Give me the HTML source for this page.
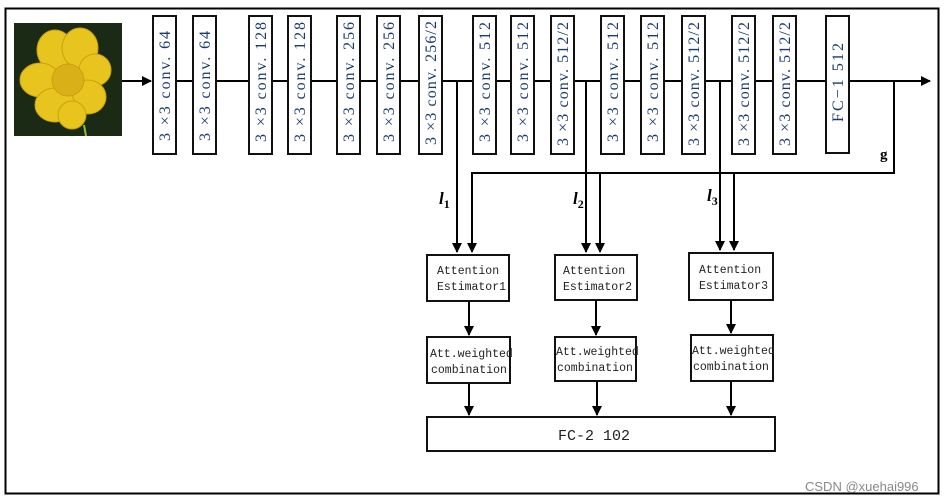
<!DOCTYPE html>
<html><head><meta charset="utf-8"><style>
html,body{margin:0;padding:0;background:#fff;}
svg{display:block;}
.r{font-family:"Liberation Serif",serif;font-size:16px;fill:#1a3a6a;}
.m{font-family:"Liberation Mono","Noto Sans CJK SC",monospace;font-size:11.5px;fill:#222;}
</style></head><body>
<svg width="946" height="502" viewBox="0 0 946 502" xmlns="http://www.w3.org/2000/svg">
<defs>
<marker id="a" viewBox="0 0 10 10" refX="9" refY="5" markerWidth="10" markerHeight="10" markerUnits="userSpaceOnUse" orient="auto"><path d="M0,0 L10,5 L0,10 z" fill="#000"/></marker>
</defs>
<rect x="5.5" y="8.5" width="933" height="485" fill="none" stroke="#000" stroke-width="2"/>
<rect x="14" y="23" width="108" height="113" fill="#1a2a14"/>
<g fill="#e8c51e" stroke="#c9a10f" stroke-width="1">
<ellipse cx="55" cy="50" rx="18" ry="20"/>
<ellipse cx="80" cy="48" rx="18" ry="20"/>
<ellipse cx="95" cy="70" rx="16" ry="16"/>
<ellipse cx="40" cy="80" rx="20" ry="17"/>
<ellipse cx="88" cy="97" rx="18" ry="17"/>
<ellipse cx="55" cy="105" rx="20" ry="17"/>
<ellipse cx="72" cy="115" rx="14" ry="14"/>
<circle cx="68" cy="80" r="16" fill="#d9b017"/>
</g>
<line x1="84" y1="125" x2="86" y2="136" stroke="#8fbf3a" stroke-width="2"/>
<g stroke="#000" stroke-width="2" fill="none">
<line x1="122" y1="81" x2="151" y2="81" marker-end="url(#a)"/>
<line x1="152" y1="81" x2="930" y2="81" marker-end="url(#a)"/>
<polyline points="457,81 457,252" marker-end="url(#a)"/>
<polyline points="586,81 586,252" marker-end="url(#a)"/>
<polyline points="720,81 720,250" marker-end="url(#a)"/>
<polyline points="894,81 894,173 472,173 472,252" marker-end="url(#a)"/>
<line x1="600" y1="173" x2="600" y2="252" marker-end="url(#a)"/>
<line x1="734" y1="173" x2="734" y2="250" marker-end="url(#a)"/>
<line x1="469" y1="301" x2="469" y2="335" marker-end="url(#a)"/>
<line x1="596" y1="300" x2="596" y2="335" marker-end="url(#a)"/>
<line x1="731" y1="300" x2="731" y2="333" marker-end="url(#a)"/>
<line x1="469" y1="383" x2="469" y2="415" marker-end="url(#a)"/>
<line x1="597" y1="381" x2="597" y2="415" marker-end="url(#a)"/>
<line x1="731" y1="381" x2="731" y2="415" marker-end="url(#a)"/>
</g>
<g fill="#fff" stroke="#111" stroke-width="2">
<rect x="153" y="16" width="23" height="138"/>
<rect x="193" y="16" width="23" height="138"/>
<rect x="249" y="16" width="23" height="138"/>
<rect x="288" y="16" width="23" height="138"/>
<rect x="337" y="16" width="23" height="138"/>
<rect x="377" y="16" width="23" height="138"/>
<rect x="419" y="16" width="23" height="138"/>
<rect x="473" y="16" width="23" height="138"/>
<rect x="511" y="16" width="23" height="138"/>
<rect x="551" y="16" width="23" height="138"/>
<rect x="601" y="16" width="23" height="138"/>
<rect x="641" y="16" width="23" height="138"/>
<rect x="682" y="16" width="23" height="138"/>
<rect x="732" y="16" width="23" height="138"/>
<rect x="773" y="16" width="23" height="138"/>
<rect x="826" y="16" width="23" height="137"/>
<rect x="427" y="255" width="82" height="46"/>
<rect x="555" y="255" width="82" height="45"/>
<rect x="689" y="253" width="84" height="47"/>
<rect x="427" y="337" width="83" height="46"/>
<rect x="555" y="337" width="81" height="44"/>
<rect x="691" y="335" width="82" height="46"/>
<rect x="427" y="417" width="348" height="34"/>
</g>
<g class="r" xml:space="preserve">
<text transform="translate(170,141) rotate(-90)" textLength="110" lengthAdjust="spacing">3 ×3  conv. 64</text>
<text transform="translate(210,141) rotate(-90)" textLength="110" lengthAdjust="spacing">3 ×3  conv. 64</text>
<text transform="translate(266,142) rotate(-90)" textLength="120" lengthAdjust="spacing">3 ×3  conv. 128</text>
<text transform="translate(305,142) rotate(-90)" textLength="120" lengthAdjust="spacing">3 ×3  conv. 128</text>
<text transform="translate(354,142) rotate(-90)" textLength="120" lengthAdjust="spacing">3 ×3  conv. 256</text>
<text transform="translate(394,142) rotate(-90)" textLength="120" lengthAdjust="spacing">3 ×3  conv. 256</text>
<text transform="translate(436,145) rotate(-90)" textLength="124" lengthAdjust="spacing">3 ×3  conv. 256/2</text>
<text transform="translate(490,142) rotate(-90)" textLength="120" lengthAdjust="spacing">3 ×3  conv. 512</text>
<text transform="translate(528,142) rotate(-90)" textLength="120" lengthAdjust="spacing">3 ×3  conv. 512</text>
<text transform="translate(568,146) rotate(-90)" textLength="124" lengthAdjust="spacing">3 ×3  conv. 512/2</text>
<text transform="translate(618,142) rotate(-90)" textLength="120" lengthAdjust="spacing">3 ×3  conv. 512</text>
<text transform="translate(658,142) rotate(-90)" textLength="120" lengthAdjust="spacing">3 ×3  conv. 512</text>
<text transform="translate(699,146) rotate(-90)" textLength="124" lengthAdjust="spacing">3 ×3  conv. 512/2</text>
<text transform="translate(749,146) rotate(-90)" textLength="124" lengthAdjust="spacing">3 ×3  conv. 512/2</text>
<text transform="translate(790,146) rotate(-90)" textLength="124" lengthAdjust="spacing">3 ×3  conv. 512/2</text>
<text transform="translate(843,122) rotate(-90)" textLength="79" lengthAdjust="spacing">FC−1  512</text>
</g>
<g class="m">
<text x="437" y="274">Attention</text><text x="437" y="290">Estimator1</text>
<text x="563" y="274">Attention</text><text x="563" y="290">Estimator2</text>
<text x="699" y="273">Attention</text><text x="699" y="289">Estimator3</text>
<text x="430" y="357">Att.weighted</text><text x="431" y="373">combination</text>
<text x="556" y="355">Att.weighted</text><text x="557" y="371">combination</text>
<text x="692" y="354">Att.weighted</text><text x="693" y="370">combination</text>
<text x="558" y="440" style="font-size:15px">FC-2 102</text>
</g>
<g font-family="Liberation Serif,serif" font-weight="bold" font-style="italic" font-size="17" fill="#000">
<text x="439" y="204">l<tspan font-size="12" dy="4" font-style="normal">1</tspan></text>
<text x="573" y="204">l<tspan font-size="12" dy="4" font-style="normal">2</tspan></text>
<text x="707" y="201">l<tspan font-size="12" dy="4" font-style="normal">3</tspan></text>
</g>
<text x="880" y="159" font-family="Liberation Serif,serif" font-weight="bold" font-size="15">g</text>
<text x="805" y="491" font-family="Liberation Sans,sans-serif" font-size="13" fill="#888">CSDN @xuehai996</text>
</svg>
</body></html>
